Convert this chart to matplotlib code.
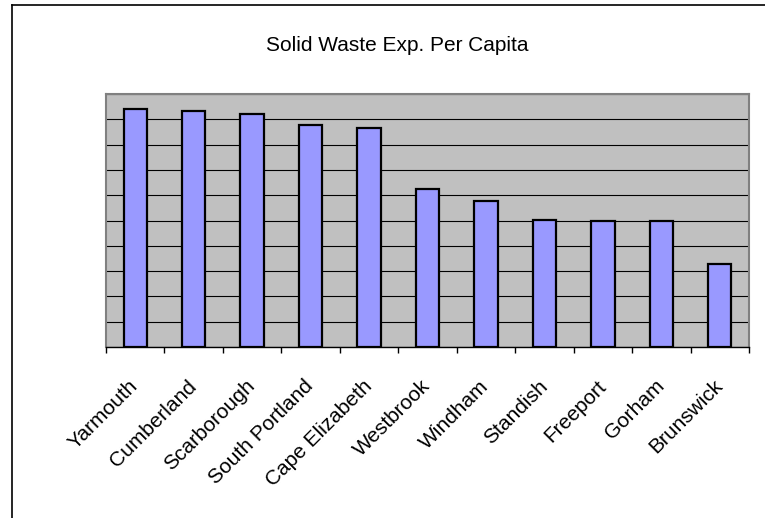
import matplotlib
matplotlib.use('Agg')
import matplotlib.pyplot as plt
from matplotlib.lines import Line2D
import numpy as np

plt.rcParams['font.family'] = ['Liberation Sans', 'DejaVu Sans']

# data (no axis labels, so units are grid steps)
towns = ['Yarmouth', 'Cumberland', 'Scarborough', 'South Portland', 'Cape Elizabeth',
         'Westbrook', 'Windham', 'Standish', 'Freeport', 'Gorham', 'Brunswick']
exp_per_capita = [9.42, 9.33, 9.21, 8.77, 8.65, 6.26, 5.76, 5.01, 5.00, 4.97, 3.27]

W, H = 765, 518
fig = plt.figure(figsize=(W / 100, H / 100), dpi=100)
ax = fig.add_axes([106 / W, 1 - 347 / H, (749 - 106) / W, (347 - 94) / H])

x = np.arange(len(towns))
ax.bar(x, exp_per_capita, width=0.4, color='#9999FF', edgecolor='black',
       linewidth=1.6, zorder=3)

ax.set_facecolor('#C0C0C0')
ax.set_xlim(-0.5, len(towns) - 0.5)
ax.set_ylim(0, 10)
ax.set_yticks(np.arange(0, 11, 1))
ax.yaxis.grid(True, color='black', linewidth=0.8, zorder=1)
ax.tick_params(axis='y', length=0, labelleft=False)

# labels at centres, tick marks at category edges
ax.set_xticks(x)
ax.set_xticklabels(towns, rotation=45, ha='right', va='center', rotation_mode='anchor',
                   fontsize=15)
ax.tick_params(axis='x', which='major', length=0, pad=26)
ax.set_xticks(np.arange(-0.5, len(towns), 1), minor=True)
ax.tick_params(axis='x', which='minor', length=4, width=1, color='black', direction='out')

for side in ['top', 'left', 'right']:
    ax.spines[side].set_color('#808080')
    ax.spines[side].set_linewidth(1.5)
ax.spines['bottom'].set_color('black')
ax.spines['bottom'].set_linewidth(1)

fig.text(397 / W, 1 - 51 / H, 'Solid Waste Exp. Per Capita', ha='center',
         va='baseline', fontsize=15)

# chart border (only top and left are inside the picture)
fig.add_artist(Line2D([12 / W, 12 / W], [0, 1 - 5 / H], color='black', linewidth=1.2))
fig.add_artist(Line2D([12 / W, 1], [1 - 5 / H, 1 - 5 / H], color='black', linewidth=1.2))

fig.savefig('out.png', dpi=100)
